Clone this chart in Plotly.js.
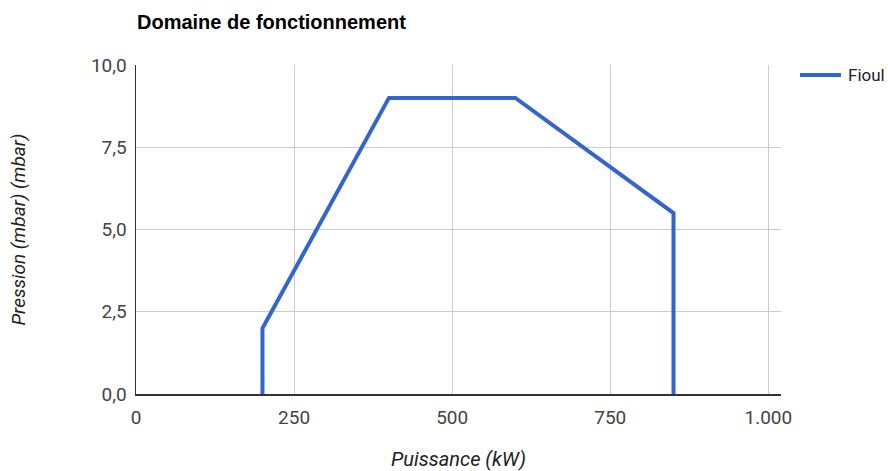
<!DOCTYPE html>
<html>
<head>
<meta charset="utf-8">
<script src="https://cdn.plot.ly/plotly-3.0.1.min.js"></script>
<style>html,body{margin:0;padding:0;background:#fff;}#chart{width:888px;height:471px;}</style>
</head>
<body>
<div id="chart"></div>
<script>
const seriesName = "Fioul";
const puissance = [200, 200, 400, 600, 850, 850];
const pression = [0, 2, 9, 9, 5.5, 0];
const xTicks = [0, 250, 500, 750, 1000];
const yTicks = [0, 2.5, 5, 7.5, 10];
const lineColor = '#3366cc';

const trace = {
  x: puissance, y: pression, type: 'scatter', mode: 'lines', name: seriesName,
  line: {color: lineColor, width: 4}, showlegend: false
};

const L = 135.5, R = 781, T = 65, B = 394;
const px = v => (v - L) / (R - L);
const py = v => (B - v) / (B - T);

const layout = {
  width: 888, height: 471,
  margin: {l: L, r: 888 - R, t: T, b: 471 - B},
  separators: ',.',
  paper_bgcolor: '#fff', plot_bgcolor: '#fff',
  font: {family: 'Roboto, Arial, sans-serif', color: '#444', size: 19},
  title: {text: '<b>Domaine de fonctionnement</b>', x: 137/888, xanchor: 'left', y: 1 - 22/471, yanchor: 'middle',
    font: {family: 'Liberation Sans, Arial, sans-serif', size: 20, color: '#000'}},
  xaxis: {range: [0, 1020], tickvals: xTicks, tickformat: ',d', showgrid: true, gridcolor: '#cccccc', gridwidth: 1,
    zeroline: false, showline: true, linecolor: '#333', linewidth: 1.5, ticks: '', ticklen: 0,
    ticklabelstandoff: 6,
    tickfont: {size: 19, color: '#444'},
    title: {text: '<i>Puissance (kW)</i>', standoff: 30, font: {size: 20, color: '#222'}}},
  yaxis: {range: [0, 10], tickvals: yTicks, tickformat: '.1f', showgrid: true, gridcolor: '#cccccc', gridwidth: 1,
    zeroline: false, showline: true, linecolor: '#333', linewidth: 1.5, ticks: '', ticklen: 0,
    ticklabelstandoff: 4,
    tickfont: {size: 19, color: '#444'},
    title: {text: '<i>Pression (mbar) (mbar)</i>', standoff: 60, font: {size: 19, color: '#222'}}},
  showlegend: false,
  shapes: [{type: 'line', xref: 'paper', yref: 'paper', x0: px(800), x1: px(841), y0: py(75), y1: py(75),
    line: {color: lineColor, width: 4}}],
  annotations: [{text: seriesName, xref: 'paper', yref: 'paper', x: px(846), y: py(75), xanchor: 'left', yanchor: 'middle',
    showarrow: false, font: {size: 17, color: '#222'}}]
};

Plotly.newPlot('chart', [trace], layout, {displayModeBar: false, staticPlot: true});
</script>
</body>
</html>
